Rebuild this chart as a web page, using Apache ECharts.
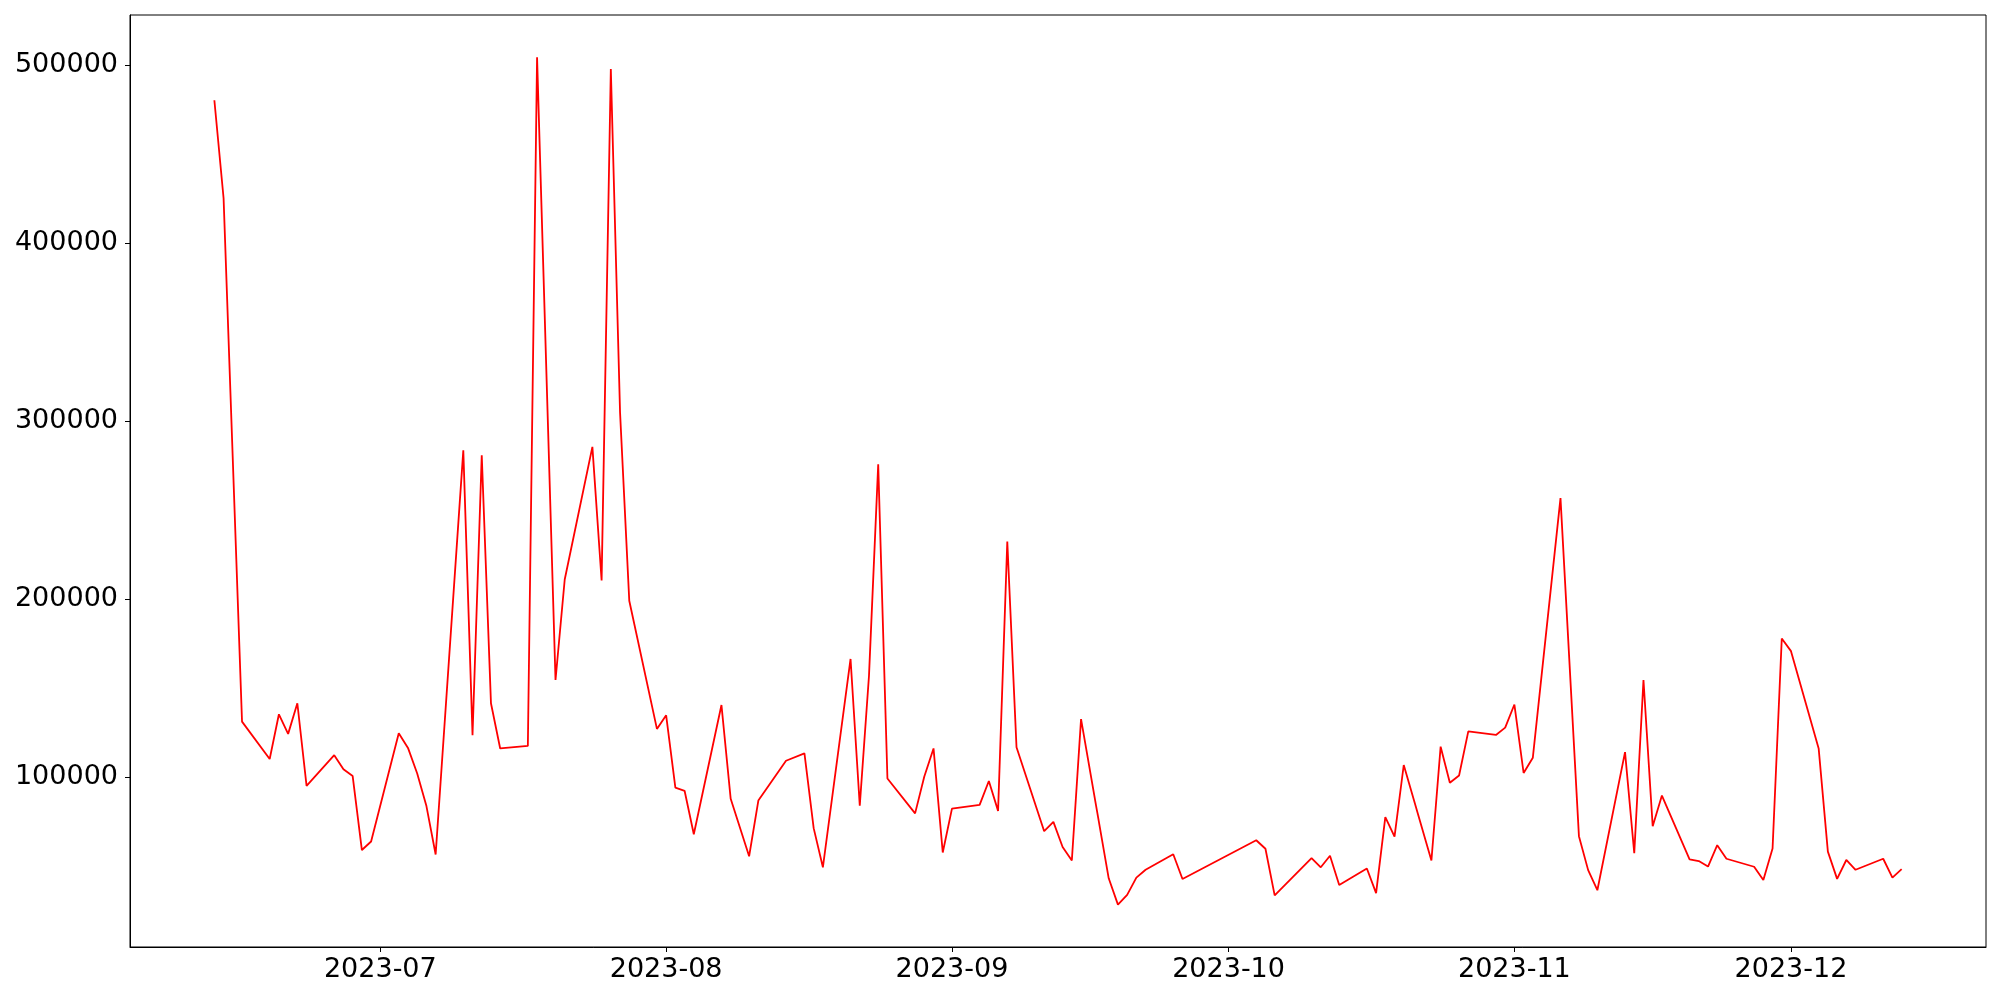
<!DOCTYPE html>
<html>
<head>
<meta charset="utf-8">
<script src="https://cdn.jsdelivr.net/npm/echarts@6/dist/echarts.min.js"></script>
<style>
html,body{margin:0;padding:0;background:#fff;}
#chart{width:2000px;height:1000px;}
</style>
</head>
<body>
<div id="chart"></div>
<script>
const dates = [
'2023-06-13','2023-06-14','2023-06-16','2023-06-19','2023-06-20','2023-06-21','2023-06-22','2023-06-23',
'2023-06-26','2023-06-27','2023-06-28','2023-06-29','2023-06-30',
'2023-07-03','2023-07-04','2023-07-05','2023-07-06','2023-07-07',
'2023-07-10','2023-07-11','2023-07-12','2023-07-13','2023-07-14',
'2023-07-17','2023-07-18','2023-07-20','2023-07-21',
'2023-07-24','2023-07-25','2023-07-26','2023-07-27','2023-07-28',
'2023-07-31','2023-08-01','2023-08-02','2023-08-03','2023-08-04',
'2023-08-07','2023-08-08','2023-08-10','2023-08-11',
'2023-08-14','2023-08-16','2023-08-17','2023-08-18',
'2023-08-21','2023-08-22','2023-08-23','2023-08-24','2023-08-25',
'2023-08-28','2023-08-29','2023-08-30','2023-08-31','2023-09-01',
'2023-09-04','2023-09-05','2023-09-06','2023-09-07','2023-09-08',
'2023-09-11','2023-09-12','2023-09-13','2023-09-14','2023-09-15',
'2023-09-18','2023-09-19','2023-09-20','2023-09-21','2023-09-22',
'2023-09-25','2023-09-26',
'2023-10-04','2023-10-05','2023-10-06',
'2023-10-10','2023-10-11','2023-10-12','2023-10-13',
'2023-10-16','2023-10-17','2023-10-18','2023-10-19','2023-10-20',
'2023-10-23','2023-10-24','2023-10-25','2023-10-26','2023-10-27',
'2023-10-30','2023-10-31','2023-11-01','2023-11-02','2023-11-03',
'2023-11-06','2023-11-08','2023-11-09','2023-11-10',
'2023-11-13','2023-11-14','2023-11-15','2023-11-16','2023-11-17',
'2023-11-20','2023-11-21','2023-11-22','2023-11-23','2023-11-24',
'2023-11-27','2023-11-28','2023-11-29','2023-11-30','2023-12-01',
'2023-12-04','2023-12-05','2023-12-06','2023-12-07','2023-12-08',
'2023-12-11','2023-12-12','2023-12-13'
];
const values = [
480400,425300,131100,110100,135200,124200,141400,95000,
112200,104300,100500,58900,63700,
124600,116300,101900,83600,56400,
283600,123500,280800,141400,116000,
117400,504500,154500,211000,
285500,210400,498000,305000,199000,
127000,134600,94000,92200,67800,
140400,87700,55400,86700,
109100,113200,71200,49200,
166300,83800,156900,275700,99100,
79500,100200,116000,57500,82200,
84300,97700,80900,232300,116700,
69500,74700,60600,53000,132500,
43000,28200,33700,43400,47800,
56500,42600,
64400,59600,33400,
54400,49200,55700,39200,
48500,34700,77400,66400,106700,
53000,117000,96700,100800,125600,
123600,127700,140700,102200,110800,
256700,66700,47600,36300,
113900,57100,154500,72300,89500,
53700,52700,49600,61600,54000,
49500,42000,59800,177800,170700,
116000,58000,42700,53300,47800,
54000,43400,48200
];
const xTickLabels = ['2023-07','2023-08','2023-09','2023-10','2023-11','2023-12'];
const yTicks = [100000,200000,300000,400000,500000];

function localTime(s){
  const p = s.split('-').map(Number);
  return new Date(p[0], p[1]-1, p[2] || 1).getTime();
}
const tFirst = localTime(dates[0]);
const tLast = localTime(dates[dates.length-1]);
const xPad = (tLast - tFirst) * 0.05;
const vMin = Math.min(...values), vMax = Math.max(...values);
const yPad = (vMax - vMin) * 0.05;

const seriesData = dates.map((d,i)=>[localTime(d), values[i]]);
const xTickValues = xTickLabels.map(l=>localTime(l+'-01'));

const chart = echarts.init(document.getElementById('chart'), null, {renderer:'canvas'});
const labelFont = {fontFamily:'DejaVu Sans', fontSize:27, color:'#000'};
chart.setOption({
  animation:false,
  backgroundColor:'#fff',
  grid:{left:130, right:14, top:15, bottom:53, show:true, borderColor:'#000', borderWidth:1, backgroundColor:'transparent'},
  xAxis:{
    type:'value',
    min:tFirst - xPad,
    max:tLast + xPad,
    axisLine:{show:true, onZero:false, lineStyle:{color:'#000', width:1}},
    axisTick:{show:true, length:5, inside:false, lineStyle:{color:'#000', width:1}, customValues:xTickValues},
    axisLabel:Object.assign({
      margin:9,
      customValues:xTickValues,
      formatter:function(v){const d=new Date(v);return d.getFullYear()+'-'+String(d.getMonth()+1).padStart(2,'0');}
    }, labelFont),
    splitLine:{show:false}
  },
  yAxis:{
    type:'value',
    min:vMin - yPad,
    max:vMax + yPad,
    axisLine:{show:true, lineStyle:{color:'#000', width:1}},
    axisTick:{show:true, length:5, inside:false, lineStyle:{color:'#000', width:1}, customValues:yTicks},
    axisLabel:Object.assign({margin:12, customValues:yTicks, formatter:function(v){return String(Math.round(v));}}, labelFont),
    splitLine:{show:false}
  },
  series:[{
    type:'line',
    data:seriesData,
    showSymbol:false,
    symbol:'none',
    lineStyle:{color:'#ff0000', width:1.8},
    itemStyle:{color:'#ff0000'}
  }]
});
</script>
</body>
</html>
